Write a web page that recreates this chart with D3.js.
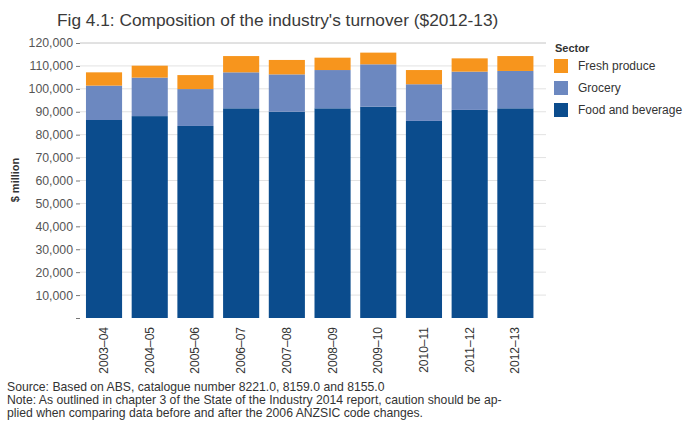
<!DOCTYPE html>
<html>
<head>
<meta charset="utf-8">
<script src="https://cdn.jsdelivr.net/npm/d3@7"></script>
<style>
  html, body { margin: 0; padding: 0; background: #fff; }
  svg { display: block; font-family: "Liberation Sans", Arial, sans-serif; }
</style>
</head>
<body>
<svg id="chart" width="687" height="421"></svg>
<script>
// Financial years
const years = ["2003–04", "2004–05", "2005–06", "2006–07", "2007–08",
               "2008–09", "2009–10", "2010–11", "2011–12", "2012–13"];

// Turnover by sector, $ million (2012-13 dollars)
const foodAndBeverage = [86400, 88100, 83800, 91500, 90000, 91500, 92200, 86000, 90800, 91500];
const grocery         = [15000, 16800, 16100, 15700, 16300, 16700, 18500, 16000, 16700, 16300];
const freshProduce    = [5800, 5200, 6100, 7100, 6300, 5400, 5100, 6200, 5800, 6500];

// Stack order (bottom to top) and legend order (top to bottom)
const sectorKeys   = ["food", "grocery", "fresh"];
const sectorNames  = { food: "Food and beverage", grocery: "Grocery", fresh: "Fresh produce" };
const legendOrder  = ["fresh", "grocery", "food"];
const sectorColors = { food: "#0b4c8d", grocery: "#6c88c0", fresh: "#f7951d" };

const yTicks = [0, 10000, 20000, 30000, 40000, 50000, 60000, 70000, 80000, 90000, 100000, 110000, 120000];

const rows = years.map((y, i) => ({
  year: y, food: foodAndBeverage[i], grocery: grocery[i], fresh: freshProduce[i]
}));

const svg = d3.select("#chart");

const x = d3.scaleBand()
  .domain(years)
  .range([81.4, 538])
  .paddingInner(0.21)
  .paddingOuter(0.1);

const y = d3.scaleLinear()
  .domain([0, 120000])
  .range([318, 43]);

// Title
svg.append("text")
  .attr("x", 57).attr("y", 26)
  .attr("font-size", 17.3)
  .attr("fill", "#3a3a3a")
  .text("Fig 4.1: Composition of the industry's turnover ($2012-13)");

// Horizontal gridlines
svg.append("g")
  .selectAll("line")
  .data(yTicks.filter(d => d > 0))
  .join("line")
  .attr("x1", 80).attr("x2", 546)
  .attr("y1", d => y(d)).attr("y2", d => y(d))
  .attr("stroke", d => d === 120000 ? "#c4c4c4" : "#e2e2e2")
  .attr("stroke-width", 1);

// Y axis
const fmt = d3.format(",");
const yAxis = svg.append("g")
  .attr("transform", "translate(80,0)")
  .call(d3.axisLeft(y)
    .tickValues(yTicks)
    .tickSize(4)
    .tickPadding(3)
    .tickFormat(d => d === 0 ? "" : fmt(d)));
yAxis.select(".domain").remove();
yAxis.selectAll(".tick line").attr("stroke", "#777");
yAxis.selectAll(".tick text")
  .attr("font-family", "Liberation Sans, Arial, sans-serif")
  .attr("font-size", 12.3)
  .attr("fill", "#555");

// Y axis title
svg.append("text")
  .attr("transform", "translate(19,180) rotate(-90)")
  .attr("text-anchor", "middle")
  .attr("font-size", 11)
  .attr("font-weight", "bold")
  .attr("fill", "#333")
  .text("$ million");

// Stacked bars
const stack = d3.stack().keys(sectorKeys)(rows);
svg.append("g")
  .selectAll("g")
  .data(stack)
  .join("g")
  .attr("fill", s => sectorColors[s.key])
  .selectAll("rect")
  .data(s => s)
  .join("rect")
  .attr("x", d => x(d.data.year))
  .attr("width", x.bandwidth())
  .attr("y", d => y(d[1]))
  .attr("height", d => y(d[0]) - y(d[1]));

// X axis labels (rotated)
const xAxis = svg.append("g")
  .attr("transform", "translate(0,318)")
  .call(d3.axisBottom(x).tickSize(0).tickPadding(0));
xAxis.select(".domain").remove();
xAxis.selectAll(".tick text")
  .attr("font-family", "Liberation Sans, Arial, sans-serif")
  .attr("font-size", 12)
  .attr("fill", "#333")
  .attr("text-anchor", "end")
  .attr("dy", null)
  .attr("transform", "translate(4,9) rotate(-90)");

// Legend
const legend = svg.append("g").attr("transform", "translate(554,0)");
legend.append("text")
  .attr("x", 1).attr("y", 52)
  .attr("font-size", 11)
  .attr("font-weight", "bold")
  .attr("fill", "#333")
  .text("Sector");
const items = legend.selectAll("g.item")
  .data(legendOrder)
  .join("g")
  .attr("class", "item")
  .attr("transform", (d, i) => `translate(0,${59 + i * 22})`);
items.append("rect")
  .attr("width", 14).attr("height", 14)
  .attr("fill", d => sectorColors[d]);
items.append("text")
  .attr("x", 24).attr("y", 11)
  .attr("font-size", 12)
  .attr("fill", "#333")
  .text(d => sectorNames[d]);

// Footnotes
const notes = [
  "Source: Based on ABS, catalogue number 8221.0, 8159.0 and 8155.0",
  "Note: As outlined in chapter 3 of the State of the Industry 2014 report, caution should be ap-",
  "plied when comparing data before and after the 2006 ANZSIC code changes."
];
svg.append("g")
  .selectAll("text")
  .data(notes)
  .join("text")
  .attr("x", 7)
  .attr("y", (d, i) => 391 + i * 13)
  .attr("font-size", 12.2)
  .attr("fill", "#333")
  .text(d => d);
</script>
</body>
</html>
